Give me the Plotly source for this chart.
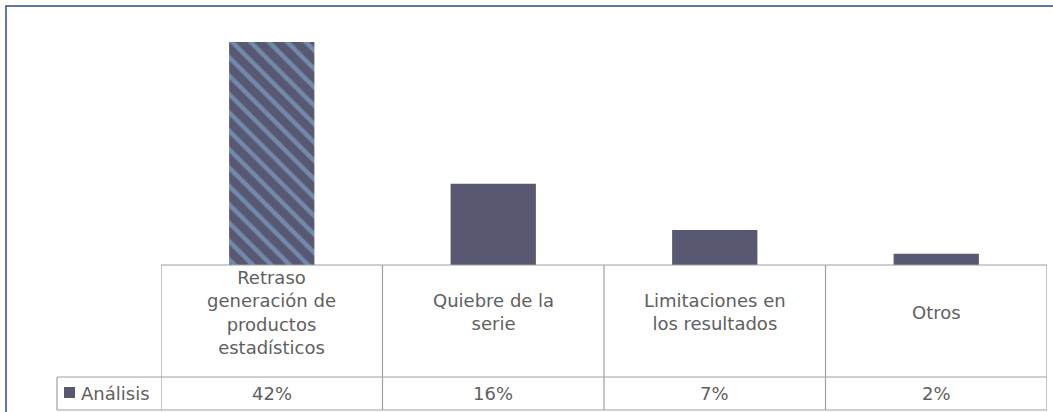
import plotly.graph_objects as go

# data
categories = ['Retraso<br>generación de<br>productos<br>estadísticos',
              'Quiebre de la<br>serie',
              'Limitaciones en<br>los resultados',
              'Otros']
values = [0.42, 0.153, 0.066, 0.021]
value_labels = ['42%', '16%', '7%', '2%']
series_name = 'Análisis'
highlighted = 0  # the bar drawn with the striped fill

W, H = 1053, 412
bar_dark = '#585872'
stripe = '#7189AA'
grid = '#A0A0A0'
txt = '#606060'
font_fam = 'DejaVu Sans'
fsize = 18


def px_x(p):
    return p / W


def px_y(p):
    return 1 - p / H


# table geometry (pixels)
tbl_left, tbl_right = 161, 1047
tbl_top, tbl_mid, tbl_bot = 265, 377, 410
leg_left = 57

x_idx = list(range(len(categories)))
solid_x = [x for x in x_idx if x != highlighted]
solid_y = [values[x] for x in solid_x]

fig = go.Figure()
fig.add_trace(go.Bar(
    x=[highlighted], y=[values[highlighted]], width=0.385, name=series_name,
    marker=dict(
        color=bar_dark, line=dict(width=0),
        pattern=dict(shape='\\', fgcolor=stripe, bgcolor=bar_dark, fgopacity=1,
                     size=13, solidity=0.35, fillmode='replace'),
    ),
    showlegend=False,
))
fig.add_trace(go.Bar(
    x=solid_x, y=solid_y, width=0.385, name=series_name,
    marker=dict(color=bar_dark, line=dict(width=0)),
    showlegend=False,
))

shapes = []
# outer chart frame
shapes.append(dict(type='rect', xref='paper', yref='paper',
                   x0=px_x(6), x1=px_x(1060), y0=px_y(425), y1=px_y(6),
                   line=dict(color='#2F4C86', width=1.5)))
# table horizontal lines
shapes.append(dict(type='line', xref='paper', yref='paper',
                   x0=px_x(tbl_left), x1=px_x(tbl_right), y0=px_y(tbl_top), y1=px_y(tbl_top),
                   line=dict(color=grid, width=1.2)))
for yy in (tbl_mid, tbl_bot):
    shapes.append(dict(type='line', xref='paper', yref='paper',
                       x0=px_x(leg_left), x1=px_x(tbl_right), y0=px_y(yy), y1=px_y(yy),
                       line=dict(color=grid, width=1.2)))
# table vertical lines at category boundaries
for i in range(len(categories) + 1):
    shapes.append(dict(type='line', xref='x', yref='paper',
                       x0=i - 0.5, x1=i - 0.5, y0=px_y(tbl_bot), y1=px_y(tbl_top),
                       line=dict(color=grid, width=1.2)))
# legend cell left edge
shapes.append(dict(type='line', xref='paper', yref='paper',
                   x0=px_x(leg_left), x1=px_x(leg_left), y0=px_y(tbl_bot), y1=px_y(tbl_mid),
                   line=dict(color=grid, width=1.2)))
# legend key
shapes.append(dict(type='rect', xref='paper', yref='paper',
                   x0=px_x(64), x1=px_x(75), y0=px_y(398), y1=px_y(387),
                   fillcolor=bar_dark, line=dict(width=0)))

annotations = []
for i, c in enumerate(categories):
    annotations.append(dict(x=i, xref='x', y=px_y(312), yref='paper',
                            text=c, showarrow=False, align='center', yanchor='middle',
                            font=dict(size=fsize, color=txt, family=font_fam)))
    annotations.append(dict(x=i, xref='x', y=px_y((tbl_mid + tbl_bot) / 2), yref='paper',
                            text=value_labels[i], showarrow=False, yanchor='middle',
                            font=dict(size=fsize, color=txt, family=font_fam)))
annotations.append(dict(x=px_x(79), xref='paper', y=px_y((tbl_mid + tbl_bot) / 2), yref='paper',
                        text=series_name, showarrow=False, xanchor='left', yanchor='middle',
                        font=dict(size=fsize, color=txt, family=font_fam)))

fig.update_layout(
    width=W, height=H,
    margin=dict(l=0, r=0, t=0, b=0),
    paper_bgcolor='white', plot_bgcolor='white',
    barmode='overlay',
    xaxis=dict(domain=[px_x(tbl_left), px_x(tbl_right)], range=[-0.5, 3.5],
               showticklabels=False, showgrid=False, zeroline=False, showline=False),
    yaxis=dict(domain=[px_y(tbl_top), px_y(26)], range=[0, 0.45],
               showticklabels=False, showgrid=False, zeroline=False, showline=False),
    shapes=shapes,
    annotations=annotations,
    font=dict(family=font_fam, color=txt),
)

fig.write_html('out.html', config={'displayModeBar': False},
               post_script="document.body.style.margin='0';")
